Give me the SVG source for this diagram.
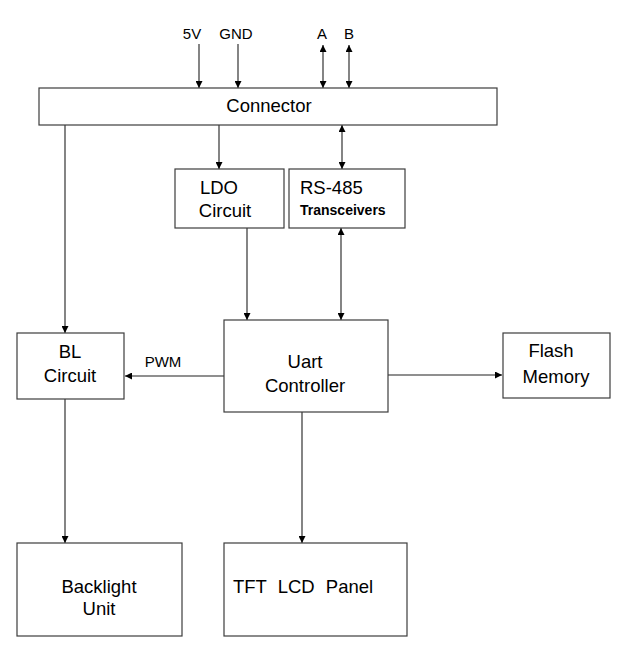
<svg xmlns="http://www.w3.org/2000/svg" width="632" height="655" viewBox="0 0 632 655">
<style>
.box{fill:#fff;stroke:#3c3c3c;stroke-width:1.2}
.t{font-family:"Liberation Sans",Arial,sans-serif;font-size:18.5px;fill:#000}
.s{font-family:"Liberation Sans",Arial,sans-serif;font-size:15px;fill:#000}
.b{font-family:"Liberation Sans",Arial,sans-serif;font-size:14px;font-weight:bold;fill:#000}
.c{stroke:#202020;stroke-width:1.1;fill:none}
</style>
<defs>
<marker id="ah" viewBox="0 0 10 10" refX="10" refY="5" markerWidth="7" markerHeight="7" markerUnits="userSpaceOnUse" orient="auto-start-reverse">
<path d="M0,0 L10,5 L0,10 Z" fill="#000"/>
</marker>
</defs>
<rect width="632" height="655" fill="#fff"/>
<g id="connectors">
<line class="c" x1="199" y1="44" x2="199" y2="88" marker-end="url(#ah)"/>
<line class="c" x1="238" y1="44" x2="238" y2="88" marker-end="url(#ah)"/>
<line class="c" x1="323" y1="45" x2="323" y2="88" marker-start="url(#ah)" marker-end="url(#ah)"/>
<line class="c" x1="349" y1="45" x2="349" y2="88" marker-start="url(#ah)" marker-end="url(#ah)"/>
<line class="c" x1="65" y1="125" x2="65" y2="333" marker-end="url(#ah)"/>
<line class="c" x1="219" y1="125" x2="219" y2="169" marker-end="url(#ah)"/>
<line class="c" x1="342" y1="125" x2="342" y2="169" marker-start="url(#ah)" marker-end="url(#ah)"/>
<line class="c" x1="247" y1="228" x2="247" y2="320" marker-end="url(#ah)"/>
<line class="c" x1="341" y1="228" x2="341" y2="320" marker-start="url(#ah)" marker-end="url(#ah)"/>
<line class="c" x1="224" y1="376" x2="125" y2="376" marker-end="url(#ah)"/>
<line class="c" x1="388" y1="375" x2="502" y2="375" marker-end="url(#ah)"/>
<line class="c" x1="65" y1="399" x2="65" y2="543" marker-end="url(#ah)"/>
<line class="c" x1="302" y1="412" x2="302" y2="543" marker-end="url(#ah)"/>
<text class="s" x="192" y="39" text-anchor="middle">5V</text>
<text class="s" x="236" y="39" text-anchor="middle">GND</text>
<text class="s" x="322" y="39" text-anchor="middle">A</text>
<text class="s" x="349" y="39" text-anchor="middle">B</text>
<text class="s" x="163" y="367" text-anchor="middle" font-size="15.5">PWM</text>
</g>
<g id="connector">
<rect class="box" x="39" y="88" width="458" height="37"/>
<text class="t" x="269" y="112" text-anchor="middle" font-size="19.5">Connector</text>
</g>
<g id="ldo">
<rect class="box" x="175" y="169" width="109" height="59"/>
<text class="t" x="219" y="194" text-anchor="middle">LDO</text>
<text class="t" x="225" y="217" text-anchor="middle">Circuit</text>
</g>
<g id="rs485">
<rect class="box" x="289" y="169" width="116" height="59"/>
<text class="t" x="300" y="194">RS-485</text>
<text class="b" x="300" y="215">Transceivers</text>
</g>
<g id="bl">
<rect class="box" x="17" y="333" width="107" height="66"/>
<text class="t" x="70" y="358" text-anchor="middle">BL</text>
<text class="t" x="70" y="382" text-anchor="middle">Circuit</text>
</g>
<g id="uart">
<rect class="box" x="224" y="320" width="164" height="92"/>
<text class="t" x="305" y="368" text-anchor="middle">Uart</text>
<text class="t" x="305" y="392" text-anchor="middle">Controller</text>
</g>
<g id="flash">
<rect class="box" x="503" y="333" width="107" height="65"/>
<text class="t" x="551" y="357" text-anchor="middle">Flash</text>
<text class="t" x="556" y="383" text-anchor="middle">Memory</text>
</g>
<g id="backlight">
<rect class="box" x="17" y="543" width="165" height="93"/>
<text class="t" x="99" y="593" text-anchor="middle">Backlight</text>
<text class="t" x="99" y="615" text-anchor="middle">Unit</text>
</g>
<g id="tft">
<rect class="box" x="224" y="543" width="183" height="93"/>
<text class="t" x="233" y="593" word-spacing="6">TFT LCD Panel</text>
</g>
</svg>
